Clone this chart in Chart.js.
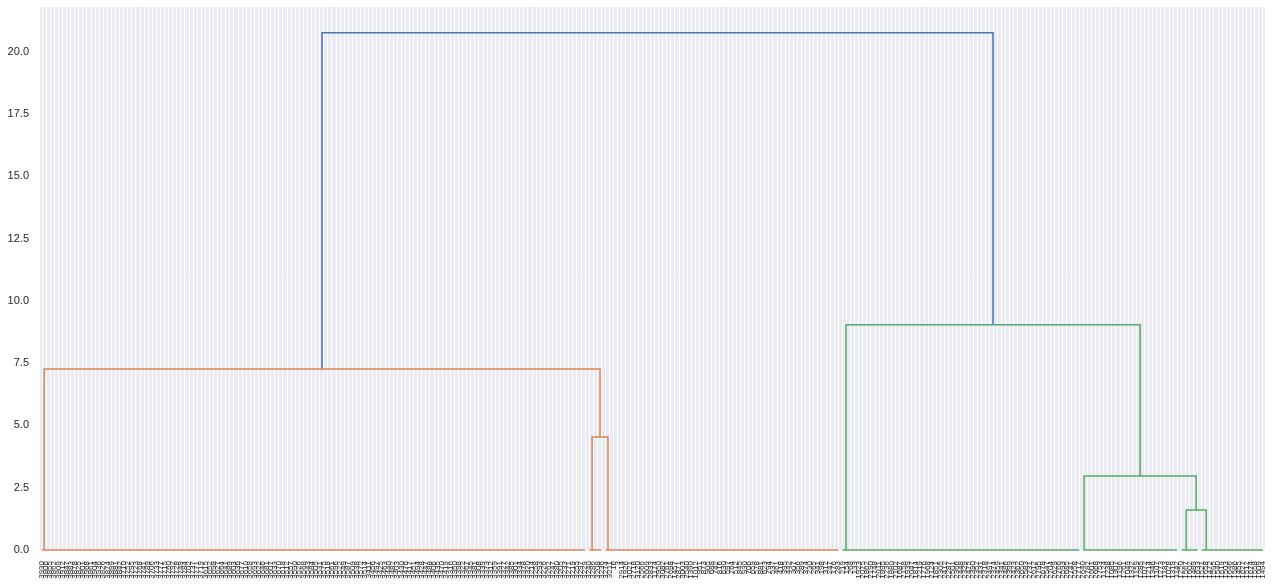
<!DOCTYPE html>
<html><head><meta charset="utf-8">
<script src="https://cdn.jsdelivr.net/npm/chart.js@4.4.1/dist/chart.umd.min.js"></script>
<style>html,body{margin:0;padding:0;background:#fff;}</style>
</head><body>
<canvas id="c" width="1273" height="585"></canvas>
<script>
// Leaf labels (sample indices), left to right
const leafLabels = [
'3930','3806','3855','3862','3809','3912','3847','3883','3878','3825','3801','3968','3861','3904','3936','3826','3874','3899','3881','3842',
'3710','3752','3795','3723','3768','3741','3789','3706','3733','3777','3715','3760','3792','3728','3749','3784','3702','3737','3771','3719',
'3615','3652','3698','3627','3664','3641','3689','3603','3636','3677','3610','3658','3693','3622','3646','3681','3607','3633','3670','3618',
'3512','3557','3590','3526','3568','3543','3584','3505','3531','3575','3518','3561','3596','3522','3549','3587','3509','3538','3572','3514',
'3411','3456','3497','3425','3463','3440','3482','3403','3430','3476','3417','3451','3494','3428','3447','3488','3406','3435','3470','3419',
'3316','3350','3398','3322','3367','3345','3381','3308','3339','3373','3312','3359','3391','3327','3342','3385','3301','3334','3378','3320',
'3214','3258','3293','3226','3262','3247','3280','3205','3233','3271','3219','3255','3297','3229','3240','3286','3208','3236','3274','3211',
'16','3','2914','1926','3021','2718','3120','2566','2609','2833','1174','2950','3082','2761','2698','1457','2871','3003','2540','1390',
'1012','951','873','905','688','742','816','630','597','764','512','845','930','706','659','578','881','623','794','537',
'461','418','395','442','307','356','289','374','230','265','341','198','312','247','176','283','219','154','268','133',
'1923','2075','1862','2190','1748','2011','1995','2236','1880','2102','1687','2158','1939','2047','1814','2219','1776','1968','2124','1851',
'2305','2412','2287','2501','2366','2448','2329','2475','2390','2352','2431','2318','2497','2374','2459','2341','2486','2399','2423','2362',
'2650','2583','2731','2612','2795','2678','2547','2704','2629','2766','2593','2685','2741','2558','2717','2640','2782','2601','2668','2753',
'1124','1238','1085','1307','1196','1261','1049','1332','1159','1285','1072','1214','1346','1107','1273','1183','1028','1319','1142','1250',
'1567','1602','1489','1633','1521','1658','1472','1595','1540','1619','1503','1646','1586','1455','1627','1512','1674','1558','1609','1494'
];

// Flat (height ~0) clusters: first and last leaf index, colour
const clusterFirstLeaf = [0, 134, 138, 196, 255, 279, 284];
const clusterLastLeaf  = [133, 137, 195, 254, 278, 283, 299];
const clusterColors    = ['#DD8452','#DD8452','#DD8452','#55A868','#55A868','#55A868','#55A868'];

// Links in scipy dendrogram coordinates (leaf i sits at 5 + 10*i)
const icoord = [
  [1352, 1352, 1391, 1391],
  [10, 10, 1371.5, 1371.5],
  [2807, 2807, 2856, 2856],
  [2557, 2557, 2831.5, 2831.5],
  [1974, 1974, 2694.25, 2694.25],
  [690.75, 690.75, 2334, 2334]
];
const dcoord = [
  [0, 4.54, 4.54, 0],
  [0, 7.27, 7.27, 4.54],
  [0, 1.61, 1.61, 0],
  [0, 2.97, 2.97, 1.61],
  [0, 9.04, 9.04, 2.97],
  [7.27, 20.77, 20.77, 9.04]
];
const linkColors = ['#DD8452','#DD8452','#55A868','#55A868','#55A868','#4C72B0'];

const yTicks = [0, 2.5, 5, 7.5, 10, 12.5, 15, 17.5, 20];
const yMax = 21.8;

const leafX = leafLabels.map((_, i) => 5 + 10 * i);
const xMax = 10 * leafLabels.length;

const datasets = [];
clusterFirstLeaf.forEach((f, k) => {
  datasets.push({
    data: [{x: leafX[f], y: 0}, {x: leafX[clusterLastLeaf[k]], y: 0}],
    borderColor: clusterColors[k], borderWidth: 1.5, showLine: true,
    pointRadius: 0, fill: false, clip: false
  });
});
icoord.forEach((xs, k) => {
  datasets.push({
    data: xs.map((x, j) => ({x: x, y: dcoord[k][j]})),
    borderColor: linkColors[k], borderWidth: 1.5, showLine: true,
    pointRadius: 0, fill: false, clip: false, tension: 0
  });
});

const bgPlugin = {
  id: 'bg',
  beforeDraw(chart) {
    const a = chart.chartArea, ctx = chart.ctx;
    ctx.save();
    ctx.fillStyle = '#EAEAF2';
    ctx.fillRect(a.left, a.top, a.right - a.left, a.bottom - a.top);
    ctx.restore();
  }
};

const FONT = "'Liberation Sans', Arial, 'DejaVu Sans', sans-serif";

new Chart(document.getElementById('c'), {
  type: 'scatter',
  data: { datasets },
  plugins: [bgPlugin],
  options: {
    responsive: false,
    animation: false,
    devicePixelRatio: 1,
    layout: { padding: { left: 0, top: 7, right: 8, bottom: 0 } },
    plugins: { legend: { display: false }, tooltip: { enabled: false } },
    scales: {
      x: {
        type: 'linear', min: 0, max: xMax,
        afterBuildTicks: s => { s.ticks = leafX.map(v => ({ value: v })); },
        afterFit: s => { s.height = 35; s.paddingLeft = 0; s.paddingRight = 0; s.paddingTop = 0; s.paddingBottom = 0; },
        ticks: {
          autoSkip: false, minRotation: 90, maxRotation: 90,
          padding: 11, color: '#262626',
          font: { size: 8, family: FONT },
          callback: (v, i) => leafLabels[i]
        },
        grid: { color: '#ffffff', lineWidth: 1, drawTicks: false },
        border: { display: false }
      },
      y: {
        type: 'linear', min: 0, max: yMax,
        afterBuildTicks: s => { s.ticks = yTicks.map(v => ({ value: v })); },
        afterFit: s => { s.width = 40; s.paddingTop = 0; s.paddingBottom = 0; s.paddingLeft = 0; s.paddingRight = 0; },
        ticks: {
          padding: 11, color: '#262626',
          font: { size: 11, family: FONT },
          callback: v => v.toFixed(1)
        },
        grid: { display: false, drawTicks: false },
        border: { display: false }
      }
    }
  }
});
</script>
</body></html>
